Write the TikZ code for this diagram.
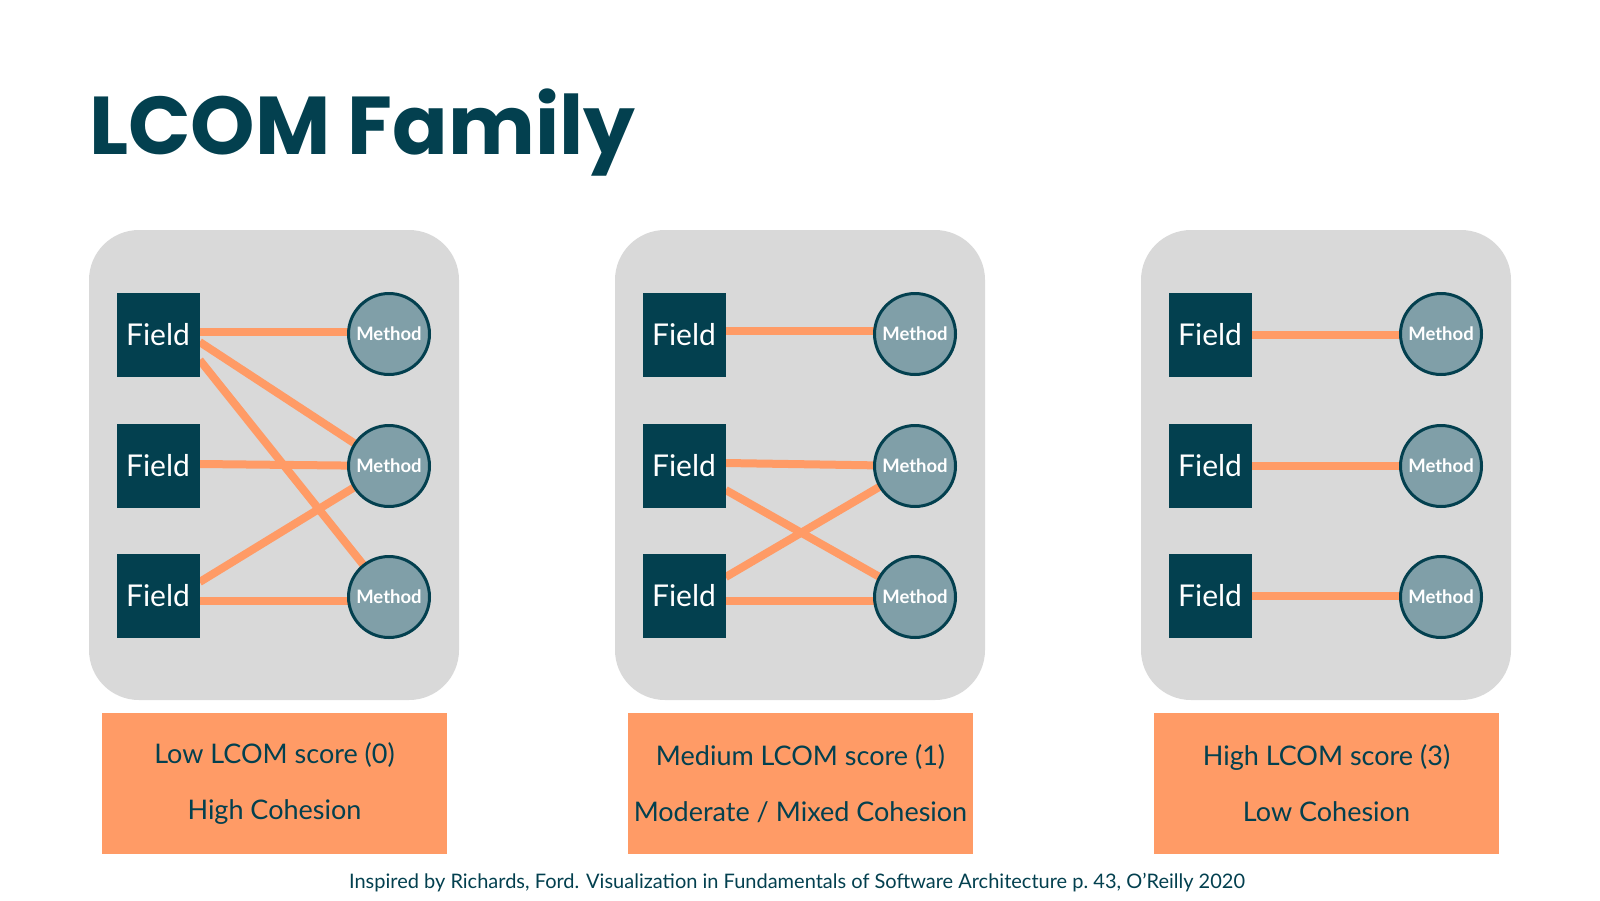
\documentclass[tikz,border=0pt]{standalone}
\usepackage{fontspec}
\setmainfont{Lato}
\newfontfamily\titlefont{Poppins}[UprightFont=* Bold]
\usetikzlibrary{calc}
\definecolor{teal}{HTML}{03404F}
\definecolor{methodfill}{HTML}{809FA8}
\definecolor{orng}{HTML}{FF9B66}
\definecolor{panelgray}{HTML}{D9D9D9}
\pgfdeclarelayer{panel}
\pgfdeclarelayer{lines}
\pgfsetlayers{panel,lines,main}
\tikzset{
  fieldbox/.style={fill=teal, text=white, minimum width=83pt, minimum height=84pt, inner sep=0pt, font=\fontsize{30}{32}\selectfont},
  methodnode/.style={circle, fill=methodfill, draw=teal, line width=3pt, minimum size=81pt, inner sep=0pt, text=white, font=\fontsize{18.5}{20}\selectfont\bfseries},
  link/.style={draw=orng, line width=8pt},
  panelbox/.style={fill=panelgray, rounded corners=50pt},
  scorebox/.style={fill=orng, minimum width=345pt, minimum height=141pt, inner sep=0pt, text=teal, align=center, font=\fontsize{27}{56}\selectfont},
}
\begin{document}
\begin{tikzpicture}[x=1pt,y=-1pt]
\begin{pgfonlayer}{panel}
  \fill[white] (0,0) rectangle (1600,900);
\end{pgfonlayer}
\useasboundingbox (0,0) rectangle (1600,900);
\node[anchor=base west, text=teal, inner sep=0pt, font=\fontsize{82}{90}\titlefont] (title) at (89,154) {LCOM Family};
\foreach \i/\dx in {a/0,b/526,c/1052}{
  \begin{pgfonlayer}{panel}
    \path[panelbox] (89+\dx,230) rectangle (459+\dx,700);
  \end{pgfonlayer}
  \node[fieldbox] (\i f1) at (158+\dx,335) {Field};
  \node[fieldbox] (\i f2) at (158+\dx,466) {Field};
  \node[fieldbox] (\i f3) at (158+\dx,596) {Field};
  \node[methodnode] (\i m1) at (389+\dx,334) {Method};
  \node[methodnode] (\i m2) at (389+\dx,466) {Method};
  \node[methodnode] (\i m3) at (389+\dx,597) {Method};
}
\node[scorebox] (sa) at (274.5,783.5) {Low LCOM score (0)\\High Cohesion};
\node[scorebox] (sb) at (800.5,783.5) {Medium LCOM score (1)\\Moderate / Mixed Cohesion};
\node[scorebox] (sc) at (1326.5,783.5) {High LCOM score (3)\\Low Cohesion};
\begin{pgfonlayer}{lines}
  % panel a
  \draw[link] ($(af1.east)+(0,-3)$) -- ($(am1.center)+(0,-2)$);
  \draw[link] ($(af1.east)+(0,7)$) -- (am2.center);
  \draw[link] ($(af1.east)+(0,25)$) -- (am3.center);
  \draw[link] ($(af2.east)+(0,-2)$) -- (am2.center);
  \draw[link] ($(af3.east)+(0,-14)$) -- (am2.center);
  \draw[link] ($(af3.east)+(0,5)$) -- ($(am3.center)+(0,4)$);
  % panel b
  \draw[link] ($(bf1.east)+(0,-4)$) -- ($(bm1.center)+(0,-3)$);
  \draw[link] ($(bf2.east)+(0,-3)$) -- (bm2.center);
  \draw[link] ($(bf2.east)+(0,24)$) -- (bm3.center);
  \draw[link] ($(bf3.east)+(0,-19)$) -- (bm2.center);
  \draw[link] ($(bf3.east)+(0,5)$) -- ($(bm3.center)+(0,4)$);
  % panel c
  \draw[link] (cf1.east) -- (cf1.east -| cm1.center);
  \draw[link] (cf2.east) -- (cm2.center);
  \draw[link] (cf3.east) -- (cf3.east -| cm3.center);
\end{pgfonlayer}
\node[text=teal, inner sep=0pt, font=\fontsize{20}{22}\selectfont] (credit) at (797,883) {Inspired by Richards, Ford. Visualization in Fundamentals of Software Architecture p.~43, O'Reilly 2020};
\end{tikzpicture}
\end{document}
